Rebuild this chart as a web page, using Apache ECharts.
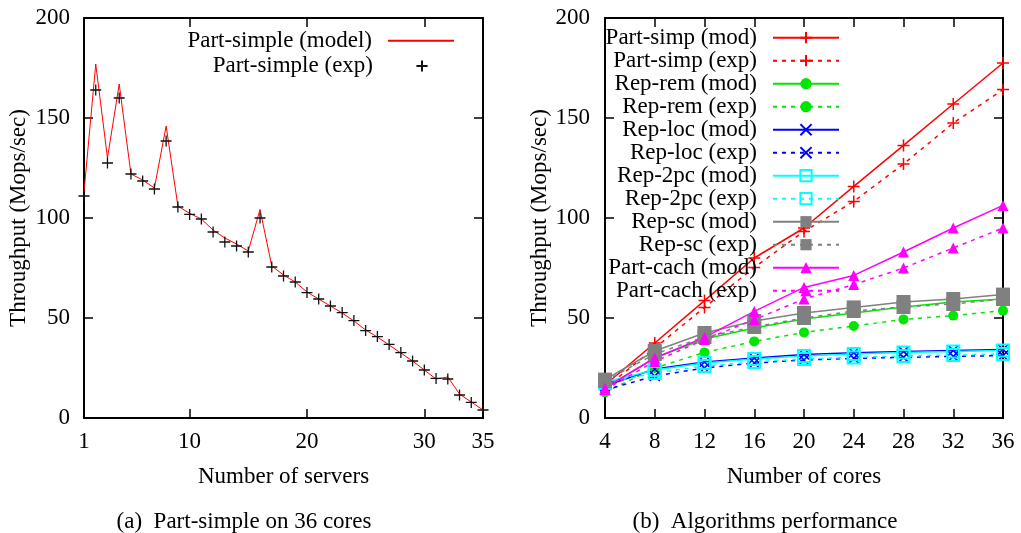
<!DOCTYPE html>
<html><head><meta charset="utf-8">
<script src="https://cdn.jsdelivr.net/npm/echarts@6/dist/echarts.min.js"></script>
<style>html,body{margin:0;padding:0;background:#fff}#c{width:1021px;height:533px}</style>
</head><body><div id="c"></div>
<script>
// ---- Left panel data ----
const servers = [1,2,3,4,5,6,7,8,9,10,11,12,13,14,15,16,17,18,19,20,21,22,23,24,25,26,27,28,29,30,31,32,33,34,35];
const partSimpleModel = [113,177,130,167,122,119,115,146,106,102.3,99.5,94,90,87,83.5,104.3,76,71.5,68,63,59.5,56,52.5,48.5,44,40.5,36.5,32.5,28.5,24,19.5,20.5,12,8,4];
const partSimpleExp = [111,164,127.5,160,122,118.5,114.5,138.5,105.5,101.8,99.5,93,88,86,83,100,75.5,71,68,62.7,59.5,56,52.7,48.7,43.7,40.7,36.8,32.7,28.5,24,19.8,19.5,11.5,7.8,4];
const leftXLabels = [1,10,20,30,35];
const leftXTicks = [10,20,30];

// ---- Right panel data ----
const cores = [4,8,12,16,20,24,28,32,36];
const partSimpMod = [16.5,37.5,58.7,80,95,115.8,136.3,157,177.5];
const partSimpExp = [15,35,55.3,75.3,93.3,108.3,127,147.5,164.2];
const repRemMod = [15,30,39.5,45,49.5,52.5,55.5,58,59.5];
const repRemExp = [12.8,25,32.8,38.3,42.8,46,49.3,51.2,53.7];
const repLocMod = [16,24.5,28,30,31.8,32.6,33.3,33.8,34.3];
const repLocExp = [14,21,25,27.5,29,29.8,30.3,30.8,31.2];
const rep2pcMod = [18,24,27.5,29.5,31,32,32.8,33.3,33.8];
const rep2pcExp = [17.5,22.5,26,28,29.5,30.3,31,31.5,32];
const repScMod = [19.2,33.5,42.5,48.5,52.5,55.3,58,59.5,61.7];
const repScExp = [18.5,32,40.5,45.5,50,53.5,55.5,57,59.5];
const partCachMod = [15,30,40.3,53.3,65.3,71.3,83,95,106.3];
const partCachExp = [14.2,28.3,39.2,49.2,59.5,66.7,75,85,95];

const FONT = "'Liberation Serif','DejaVu Serif',serif";
const FS = 23;
const PLUS = 'path://M5,0L5,10M0,5L10,5';
const CROSS = 'path://M0,0L10,10M10,0L0,10';
const zip = (xs, ys) => xs.map((x, i) => [x, ys[i]]);

const rightDefs = [
  {name:'Part-simp (mod)', data:partSimpMod, color:'#ff0000', dash:false, symbol:PLUS, size:12, kind:'stroke'},
  {name:'Part-simp (exp)', data:partSimpExp, color:'#ff0000', dash:true, symbol:PLUS, size:12, kind:'stroke'},
  {name:'Rep-rem (mod)', data:repRemMod, color:'#00e600', dash:false, symbol:'circle', size:10, kind:'fill'},
  {name:'Rep-rem (exp)', data:repRemExp, color:'#00e600', dash:true, symbol:'circle', size:10, kind:'fill'},
  {name:'Rep-loc (mod)', data:repLocMod, color:'#0000ff', dash:false, symbol:CROSS, size:10, kind:'stroke'},
  {name:'Rep-loc (exp)', data:repLocExp, color:'#0000ff', dash:true, symbol:CROSS, size:10, kind:'stroke'},
  {name:'Rep-2pc (mod)', data:rep2pcMod, color:'#00ffff', dash:false, symbol:'rect', size:12, kind:'hollow'},
  {name:'Rep-2pc (exp)', data:rep2pcExp, color:'#00ffff', dash:true, symbol:'rect', size:12, kind:'hollow'},
  {name:'Rep-sc (mod)', data:repScMod, color:'#808080', dash:false, symbol:'rect', size:14, kind:'fill'},
  {name:'Rep-sc (exp)', data:repScExp, color:'#808080', dash:true, symbol:'rect', size:14, kind:'fill'},
  {name:'Part-cach (mod)', data:partCachMod, color:'#ff00ff', dash:false, symbol:'triangle', size:11, kind:'fill'},
  {name:'Part-cach (exp)', data:partCachExp, color:'#ff00ff', dash:true, symbol:'triangle', size:11, kind:'fill'}
];

function itemStyleFor(d) {
  if (d.kind === 'stroke') return {color: d.color, borderColor: d.color, borderWidth: 1.5};
  if (d.kind === 'hollow') return {color: 'rgba(0,0,0,0)', borderColor: d.color, borderWidth: 2};
  return {color: d.color, borderWidth: 0};
}

const textBase = {fontFamily: FONT, fontSize: FS, color: '#000'};
const axLine = {show: true, onZero: false, lineStyle: {color: '#000', width: 2}};
const tick = {show: true, inside: true, length: 9, lineStyle: {color: '#000', width: 1.5}};

const grids = [
  {left: 84, top: 18, width: 399, height: 400},
  {left: 605, top: 18, width: 398, height: 400}
];

const xAxes = [
  {gridIndex: 0, type: 'value', position: 'bottom', min: 1, max: 35,
   axisLine: axLine, axisTick: Object.assign({customValues: leftXTicks}, tick),
   axisLabel: Object.assign({customValues: leftXLabels, margin: 12}, textBase),
   splitLine: {show: false},
   name: 'Number of servers', nameLocation: 'middle', nameGap: 47, nameTextStyle: textBase},
  {gridIndex: 0, type: 'value', position: 'top', min: 1, max: 35,
   axisLine: axLine, axisTick: Object.assign({customValues: leftXTicks}, tick),
   axisLabel: {show: false}, splitLine: {show: false}},
  {gridIndex: 1, type: 'value', position: 'bottom', min: 4, max: 36, interval: 4,
   axisLine: axLine, axisTick: tick,
   axisLabel: Object.assign({margin: 12}, textBase), splitLine: {show: false},
   name: 'Number of cores', nameLocation: 'middle', nameGap: 47, nameTextStyle: textBase},
  {gridIndex: 1, type: 'value', position: 'top', min: 4, max: 36, interval: 4,
   axisLine: axLine, axisTick: tick, axisLabel: {show: false}, splitLine: {show: false}}
];

const yAxes = [
  {gridIndex: 0, type: 'value', position: 'left', min: 0, max: 200, interval: 50,
   axisLine: axLine, axisTick: tick, axisLabel: Object.assign({margin: 14}, textBase),
   splitLine: {show: false},
   name: 'Throughput (Mops/sec)', nameLocation: 'middle', nameGap: 54, nameTextStyle: textBase},
  {gridIndex: 0, type: 'value', position: 'right', min: 0, max: 200, interval: 50,
   axisLine: axLine, axisTick: tick, axisLabel: {show: false}, splitLine: {show: false}},
  {gridIndex: 1, type: 'value', position: 'left', min: 0, max: 200, interval: 50,
   axisLine: axLine, axisTick: tick, axisLabel: Object.assign({margin: 15}, textBase),
   splitLine: {show: false},
   name: 'Throughput (Mops/sec)', nameLocation: 'middle', nameGap: 54, nameTextStyle: textBase},
  {gridIndex: 1, type: 'value', position: 'right', min: 0, max: 200, interval: 50,
   axisLine: axLine, axisTick: tick, axisLabel: {show: false}, splitLine: {show: false}}
];

const series = [
  {name: 'Part-simple (model)', type: 'line', xAxisIndex: 0, yAxisIndex: 0,
   data: zip(servers, partSimpleModel), symbol: 'none',
   lineStyle: {color: '#ff0000', width: 1}, itemStyle: {color: '#ff0000'}},
  {name: 'Part-simple (exp)', type: 'line', xAxisIndex: 0, yAxisIndex: 0,
   data: zip(servers, partSimpleExp), symbol: PLUS, symbolSize: 11, showAllSymbol: true,
   lineStyle: {width: 0}, itemStyle: {color: '#111', borderColor: '#111', borderWidth: 1.3}}
];
rightDefs.forEach(d => {
  series.push({
    name: d.name, type: 'line', xAxisIndex: 2, yAxisIndex: 2,
    data: zip(cores, d.data), symbol: d.symbol, symbolSize: d.size, showAllSymbol: true,
    lineStyle: {color: d.color, width: 1.5, type: d.dash ? [4, 5] : 'solid'},
    itemStyle: itemStyleFor(d)
  });
});

const legendBase = {orient: 'vertical', align: 'right', padding: 0, itemWidth: 66, itemHeight: 14,
  selectedMode: false, textStyle: Object.assign({padding: [0, 11, 0, 0]}, textBase)};
const legends = [
  Object.assign({}, legendBase, {data: ['Part-simple (model)'], right: 1021 - 455, top: 29.2, itemStyle: {opacity: 0}}),
  Object.assign({}, legendBase, {data: ['Part-simple (exp)'], right: 1021 - 455, top: 54.5})
];
rightDefs.forEach((d, i) => {
  legends.push(Object.assign({}, legendBase, {data: [d.name], right: 1021 - 840, top: 26.2 + 23 * i}));
});

const chart = echarts.init(document.getElementById('c'), null, {renderer: 'canvas'});
chart.setOption({
  backgroundColor: '#fff',
  animation: false,
  grid: grids,
  xAxis: xAxes,
  yAxis: yAxes,
  legend: legends,
  series: series,
  graphic: [
    {type: 'text', style: {text: '(a)  Part-simple on 36 cores', x: 244, y: 522, textAlign: 'center', textVerticalAlign: 'middle', font: FS + 'px ' + FONT, fill: '#000'}},
    {type: 'text', style: {text: '(b)  Algorithms performance', x: 765, y: 522, textAlign: 'center', textVerticalAlign: 'middle', font: FS + 'px ' + FONT, fill: '#000'}}
  ]
});
</script></body></html>
